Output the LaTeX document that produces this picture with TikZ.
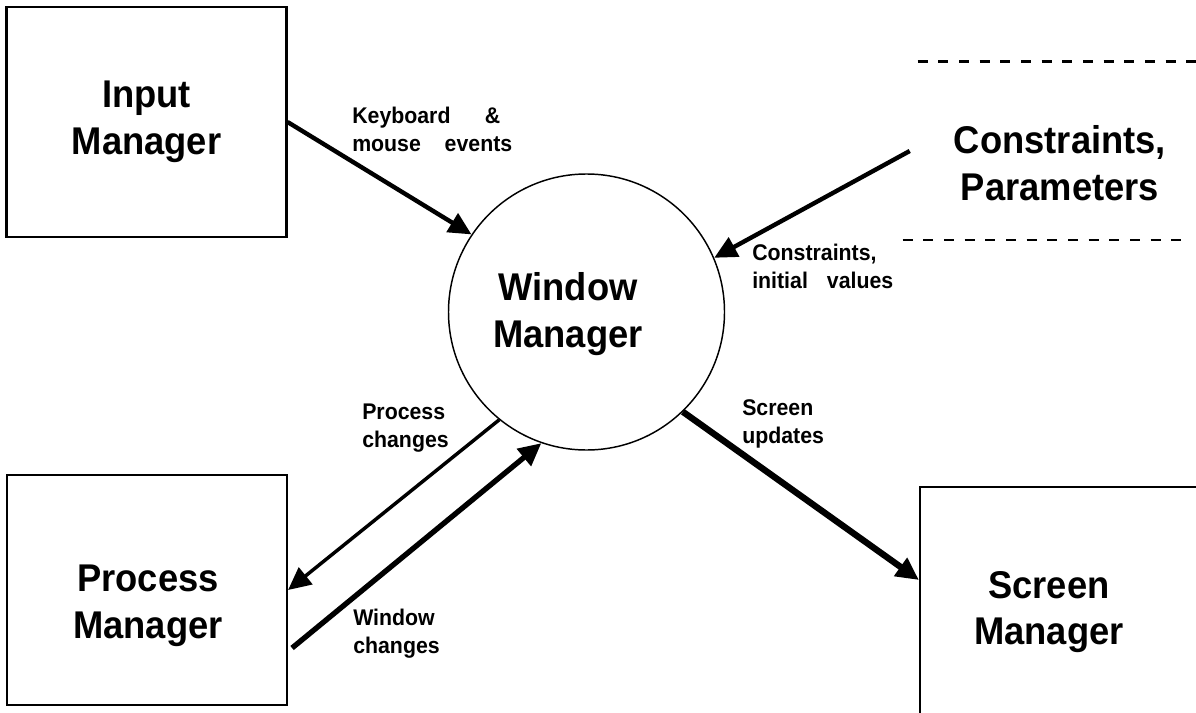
\documentclass[tikz,border=0pt]{standalone}
\usepackage{fontspec}
\setmainfont[FakeStretch=0.94]{Liberation Sans}
\usetikzlibrary{arrows.meta}

\newcommand{\bigtxt}{\fontsize{29}{35}\selectfont\bfseries}
\newcommand{\smalltxt}{\fontsize{17}{21}\selectfont\bfseries}

\begin{document}
\begin{tikzpicture}[x=0.75pt, y=-0.75pt,
    box/.style={draw, line width=1.6pt, minimum width=210pt, minimum height=172.5pt, inner sep=0pt},
    bigtext/.style={align=center, inner sep=0pt, font=\bigtxt},
    smalltext/.style={align=left, inner sep=0pt, anchor=north west, font=\smalltxt},
    flow/.style={-{Triangle[length=17pt,width=16pt]}, line width=3.3pt},
    storeline/.style={dash pattern=on 7.5pt off 8pt}]
    \useasboundingbox (0,0) rectangle (1196,713);
    \clip (0,0) rectangle (1196,713);

    \node[box] (inbox) at (146.5,122) {}; % input manager
    \node[box] (procbox) at (147,590) {}; % process manager
    \node[box, minimum width=240pt] (scrbox) at (1080,602) {}; % screen manager
    \node[circle, draw, line width=1.1pt, minimum size=207pt, inner sep=0pt] (wm) at (586.5,312) {}; % window manager
    \node[minimum width=217.5pt, minimum height=133.5pt, inner sep=0pt] (store) at (1055,151) {}; % constraints store

    \draw[storeline, line width=2.25pt] ([xshift=6pt]store.north west) -- ([xshift=10pt]store.north east);
    \draw[storeline, line width=1.5pt] ([xshift=-5.25pt]store.south west) -- ([xshift=-11.25pt]store.south east);

    \node[bigtext] (intext) at (146.5,121.5) {Input\\Manager};
    \node[bigtext] (proctext) at (148,606) {Process\\Manager};
    \node[bigtext] (scrtext) at (1049,612) {Screen\\Manager};
    \node[bigtext] (wmtext) at (568,314) {Window\\Manager};
    \node[bigtext] (storetext) at (1060,163.5) {Constraints,\\Parameters};

    \node[smalltext] (kbd) at (352,107) {\makebox[111pt][s]{Keyboard \&}\\\makebox[120pt][s]{mouse events}};
    \node[smalltext] (cons) at (752,244) {Constraints,\\\makebox[105.75pt][s]{initial values}};
    \node[smalltext] (pchg) at (362,404) {Process\\changes};
    \node[smalltext] (wchg) at (353,609) {Window\\changes};
    \node[smalltext] (supd) at (742,399) {Screen\\updates};

    \draw[flow] (inbox.east) -- (wm.146);
    \draw[flow] (store.west) -- (wm.23);
    \draw[flow, line width=2.6pt] (wm.231) -- (procbox.east);
    \draw[flow, line width=4pt] ([xshift=3pt, yshift=-43.5pt]procbox.east) -- (wm.251);
    \draw[flow, line width=4.8pt] (wm.314) -- ([yshift=16.5pt]scrbox.west);
\end{tikzpicture}
\end{document}
